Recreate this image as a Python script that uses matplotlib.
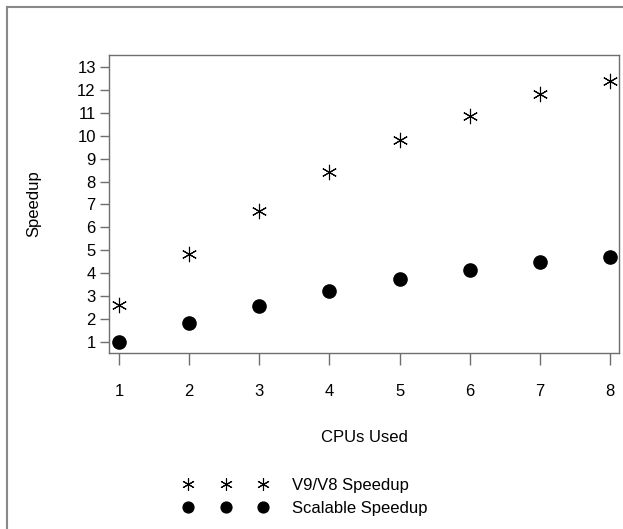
import matplotlib
matplotlib.use("Agg")
import matplotlib.pyplot as plt
from matplotlib.lines import Line2D

# ---------------------- Daten ----------------------
cpus = [1, 2, 3, 4, 5, 6, 7, 8]
v9_v8_speedup = [2.63, 4.82, 6.72, 8.40, 9.82, 10.87, 11.80, 12.37]
scalable_speedup = [1.00, 1.84, 2.56, 3.21, 3.75, 4.14, 4.49, 4.71]
y_ticks = list(range(1, 14))

plt.rcParams["font.family"] = ["Liberation Sans", "DejaVu Sans"]
grey = "#6e6e6e"
fs = 12

fig = plt.figure(figsize=(6.23, 5.29), dpi=100)
ax = fig.add_axes([109 / 623, 1 - 353 / 529, 510 / 623, 298 / 529])

ax.plot(cpus, v9_v8_speedup, linestyle="none", marker=(6, 2, 0),
        markersize=11, markeredgewidth=0.8, color="black", label="V9/V8 Speedup")
ax.plot(cpus, scalable_speedup, linestyle="none", marker="o",
        markersize=9.5, color="black", label="Scalable Speedup")

ax.set_xlim(0.857, 8.13)
ax.set_ylim(0.52, 13.52)
ax.set_xticks(cpus)
ax.set_yticks(y_ticks)
ax.tick_params(axis="x", direction="out", length=8.6, width=1, color=grey,
               labelsize=fs, pad=14)
ax.tick_params(axis="y", direction="out", length=6.5, width=1, color=grey,
               labelsize=fs, pad=3)
for s in ax.spines.values():
    s.set_color(grey)
    s.set_linewidth(1)

ax.set_xlabel("CPUs Used", fontsize=fs, va="center")
ax.xaxis.set_label_coords(0.5, -0.282)
ax.set_ylabel("Speedup", fontsize=fs, va="center")
ax.yaxis.set_label_coords(-0.148, 0.5)

leg = fig.legend(loc="center left", bbox_to_anchor=(183 / 623, 1 - 497 / 529),
                 numpoints=3, handlelength=5.1, handletextpad=1.44,
                 labelspacing=0.45, markerscale=0.82, frameon=False,
                 borderpad=0, borderaxespad=0, fontsize=fs)

# aeusserer Rahmen (nur oben und links sichtbar)
fig.add_artist(Line2D([7 / 623, 1.0], [1 - 7 / 529, 1 - 7 / 529],
                      transform=fig.transFigure, color="#888888", linewidth=1.5))
fig.add_artist(Line2D([7 / 623, 7 / 623], [0.0, 1 - 7 / 529],
                      transform=fig.transFigure, color="#888888", linewidth=1.5))

fig.savefig("out.png", dpi=100)
